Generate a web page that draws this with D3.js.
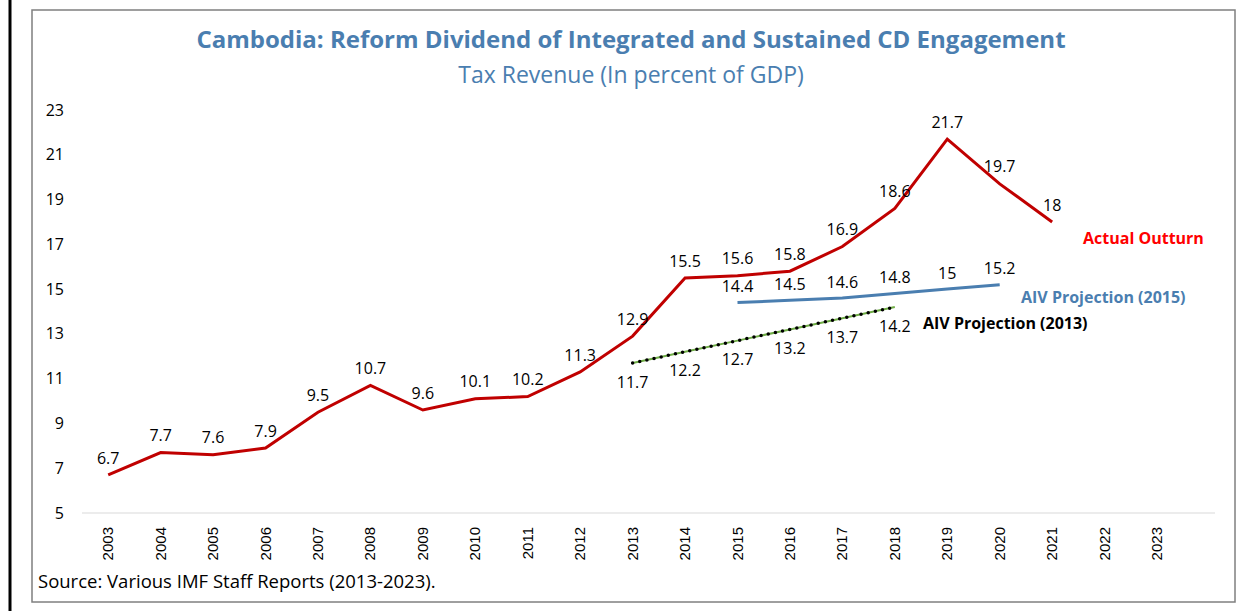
<!DOCTYPE html>
<html>
<head>
<meta charset="utf-8">
<script src="https://cdn.jsdelivr.net/npm/d3@7"></script>
<style>
  body { margin: 0; background: #fff; }
  svg { display: block; }
  text { font-family: "Open Sans", "Noto Sans", sans-serif; }
</style>
</head>
<body>
<svg id="chart" width="1244" height="611"></svg>
<script>
var years = d3.range(2003, 2024).map(String);

var actualYears = years.slice(0, 19);
var actualValues = [6.7, 7.7, 7.6, 7.9, 9.5, 10.7, 9.6, 10.1, 10.2, 11.3, 12.9, 15.5, 15.6, 15.8, 16.9, 18.6, 21.7, 19.7, 18];

var aiv2015Years = ["2015", "2016", "2017", "2018", "2019", "2020"];
var aiv2015Values = [14.4, 14.5, 14.6, 14.8, 15, 15.2];

var aiv2013Years = ["2013", "2014", "2015", "2016", "2017", "2018"];
var aiv2013Values = [11.7, 12.2, 12.7, 13.2, 13.7, 14.2];

var yTicks = [5, 7, 9, 11, 13, 15, 17, 19, 21, 23];

var svg = d3.select("#chart"),
  blue = "#4a7eb0",
  red = "#c00000";

// outer frame bits
svg.append("line")
  .attr("x1", 10).attr("x2", 10).attr("y1", 0).attr("y2", 611)
  .attr("stroke", "#000").attr("stroke-width", 3);

svg.append("rect")
  .attr("x", 32).attr("y", 10).attr("width", 1203).attr("height", 592)
  .attr("fill", "#fff").attr("stroke", "#7f7f7f").attr("stroke-width", 1.5);

var x = d3.scaleBand()
  .domain(years)
  .range([82, 82 + 21 * 52.44]);

var y = d3.scaleLinear()
  .domain([5, 23])
  .range([513, 110]);

function cx(d) { return x(d) + x.bandwidth() / 2; }

// baseline gridline
svg.append("line")
  .attr("x1", 82).attr("x2", 1215)
  .attr("y1", y(5)).attr("y2", y(5))
  .attr("stroke", "#d9d9d9").attr("stroke-width", 1);

// y axis labels
svg.append("g").selectAll("text")
  .data(yTicks)
  .enter().append("text")
  .attr("x", 64)
  .attr("y", function(d) { return y(d); })
  .attr("dy", "0.35em")
  .attr("text-anchor", "end")
  .style("font-size", "16px")
  .attr("fill", "#000")
  .text(function(d) { return d; });

// x axis labels (rotated)
svg.append("g").selectAll("text")
  .data(years)
  .enter().append("text")
  .attr("transform", function(d) { return "translate(" + (cx(d) + 5) + ",527) rotate(-90)"; })
  .attr("text-anchor", "end")
  .style("font-family", "'Liberation Sans', Arial, sans-serif")
  .style("font-size", "15px")
  .attr("fill", "#000")
  .text(function(d) { return d; });

var line = d3.line()
  .x(function(d) { return cx(d[0]); })
  .y(function(d) { return y(d[1]); });

var actual = d3.zip(actualYears, actualValues),
  p2015 = d3.zip(aiv2015Years, aiv2015Values),
  p2013 = d3.zip(aiv2013Years, aiv2013Values);

svg.append("path")
  .datum(p2013)
  .attr("d", line)
  .attr("fill", "none")
  .attr("stroke", "#70ad47")
  .attr("stroke-width", 2);

svg.append("path")
  .datum(p2013)
  .attr("d", line)
  .attr("fill", "none")
  .attr("stroke", "#000")
  .attr("stroke-width", 3.5)
  .attr("stroke-linecap", "round")
  .attr("stroke-dasharray", "0 7.3");

svg.append("path")
  .datum(p2015)
  .attr("d", line)
  .attr("fill", "none")
  .attr("stroke", blue)
  .attr("stroke-width", 3);

svg.append("path")
  .datum(actual)
  .attr("d", line)
  .attr("fill", "none")
  .attr("stroke", red)
  .attr("stroke-width", 3)
  .attr("stroke-linejoin", "miter");

// data labels
function labels(data, dy) {
  svg.append("g").selectAll("text")
    .data(data)
    .enter().append("text")
    .attr("x", function(d) { return cx(d[0]); })
    .attr("y", function(d) { return y(d[1]) + dy; })
    .attr("dy", "0.35em")
    .attr("text-anchor", "middle")
    .style("font-size", "16px")
    .attr("fill", "#000")
    .text(function(d) { return d[1]; });
}
labels(actual, -17);
labels(p2015, -16);
labels(p2013, 19);

// series names
svg.append("text")
  .attr("x", 1083).attr("y", 238).attr("dy", "0.35em")
  .style("font-size", "16px").style("font-weight", "bold")
  .attr("fill", "#ff0000")
  .text("Actual Outturn");

svg.append("text")
  .attr("x", 1021).attr("y", 297).attr("dy", "0.35em")
  .style("font-size", "16px").style("font-weight", "bold")
  .attr("fill", blue)
  .text("AIV Projection (2015)");

svg.append("text")
  .attr("x", 923).attr("y", 323).attr("dy", "0.35em")
  .style("font-size", "16px").style("font-weight", "bold")
  .attr("fill", "#000")
  .text("AIV Projection (2013)");

// titles
svg.append("text")
  .attr("x", 631).attr("y", 40).attr("dy", "0.35em")
  .attr("text-anchor", "middle")
  .style("font-size", "24px").style("font-weight", "bold")
  .attr("fill", blue)
  .text("Cambodia: Reform Dividend of Integrated and Sustained CD Engagement");

svg.append("text")
  .attr("x", 631).attr("y", 75).attr("dy", "0.35em")
  .attr("text-anchor", "middle")
  .style("font-size", "23px")
  .attr("fill", blue)
  .text("Tax Revenue (In percent of GDP)");

svg.append("text")
  .attr("x", 38).attr("y", 582).attr("dy", "0.35em")
  .style("font-size", "18.5px")
  .attr("fill", "#000")
  .text("Source: Various IMF Staff Reports (2013-2023).");
</script>
</body>
</html>
